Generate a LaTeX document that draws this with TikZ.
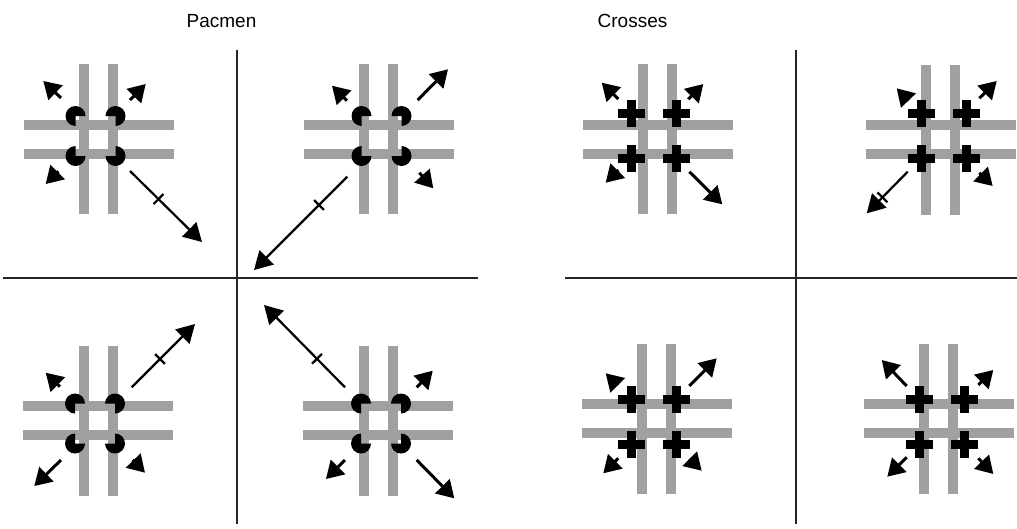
\documentclass[tikz,border=0pt]{standalone}
\usepackage{fontspec}
\setmainfont{Liberation Sans}
\usetikzlibrary{arrows.meta,calc}
\definecolor{bargray}{RGB}{160,160,160}
\tikzset{
  barfill/.style={fill=bargray},
  frameline/.style={line width=1.6pt, black!85},
  smallarr/.style={line width=3pt, -{Triangle[length=17pt,width=20pt]}},
  bigarr/.style={line width=2.2pt, -{Triangle[length=18pt,width=20pt]}},
  tickline/.style={line width=2.2pt},
  title/.style={font=\fontsize{19}{21}\selectfont, anchor=base, inner sep=0pt},
  pacman/.pic={\fill (0,0) -- (#1:10) arc[start angle=#1, delta angle=270, radius=10] -- cycle;},
  crossmark/.pic={\fill (-13.5,-4.5) rectangle (13.5,4.5); \fill (-4.5,-13.5) rectangle (4.5,13.5);}
}
% bars of one panel, centred at the scope origin
\newcommand\PanelBars{%
  \fill[barfill] (-19.5,-75) rectangle (-9.5,75);
  \fill[barfill] (9.5,-75) rectangle (19.5,75);
  \fill[barfill] (-75,-19.5) rectangle (75,-9.5);
  \fill[barfill] (-75,9.5) rectangle (75,19.5);}
% #1 #2 = shift of the inducers
\newcommand\PacSet[2]{%
  \pic at ({-20+#1},{-20+#2}) {pacman=90};
  \pic at ({20+#1},{-20+#2}) {pacman=180};
  \pic at ({-20+#1},{20+#2}) {pacman=0};
  \pic at ({20+#1},{20+#2}) {pacman=270};}
\newcommand\CrossSet[2]{%
  \pic at ({-22.5+#1},{-22.5+#2}) {crossmark};
  \pic at ({22.5+#1},{-22.5+#2}) {crossmark};
  \pic at ({-22.5+#1},{22.5+#2}) {crossmark};
  \pic at ({22.5+#1},{22.5+#2}) {crossmark};}
% style, name, tail, head
\newcommand\Arw[4]{%
  \coordinate (#2t) at #3; \coordinate (#2h) at #4;
  \draw[#1] (#2t) -- (#2h);}
\newcommand\Tick[2][40pt]{%
  \path ($(#2t)!#1!(#2h)$) coordinate (#2m);
  \draw[tickline] ($(#2m)!7pt!90:(#2h)$) -- ($(#2m)!7pt!-90:(#2h)$);}
\begin{document}
\begin{tikzpicture}[x=1pt,y=-1pt]
\useasboundingbox (0,0) rectangle (1017,528);
% titles
\node[title] (tpac) at (221.5,27) {Pacmen};
\node[title] (tcross) at (632.5,27) {Crosses};
% dividers
\coordinate (lv1) at (237,50); \coordinate (lv2) at (237,524);
\coordinate (lh1) at (3,278); \coordinate (lh2) at (478,278);
\coordinate (rv1) at (796,50); \coordinate (rv2) at (796,524);
\coordinate (rh1) at (565,278); \coordinate (rh2) at (1017,278);
\draw[frameline] (lv1) -- (lv2);
\draw[frameline] (lh1) -- (lh2);
\draw[frameline] (rv1) -- (rv2);
\draw[frameline] (rh1) -- (rh2);
% ---- Pacmen panels
\begin{scope}[shift={(98.5,139)}]\PanelBars\PacSet{-3}{-3}\end{scope}
\begin{scope}[shift={(378.5,139)}]\PanelBars\PacSet{3}{-3}\end{scope}
\begin{scope}[shift={(98,420.5)}]\PanelBars\PacSet{-3}{3}\end{scope}
\begin{scope}[shift={(378,420.5)}]\PanelBars\PacSet{3}{3}\end{scope}
% ---- Crosses panels
\begin{scope}[shift={(657.5,139)}]\PanelBars\CrossSet{-3.5}{-3.5}\end{scope}
\begin{scope}[shift={(940.5,139.5)}]\PanelBars\CrossSet{3.5}{-3.5}\end{scope}
\begin{scope}[shift={(656.5,418.5)}]\PanelBars\CrossSet{-3}{3}\end{scope}
\begin{scope}[shift={(938.5,418.5)}]\PanelBars\CrossSet{3.3}{3.3}\end{scope}
% ---- arrows, panel 1
\Arw{smallarr}{pa}{(61,98)}{(43.3,81)}
\Arw{smallarr}{pb}{(130,100)}{(145.7,84)}
\Arw{smallarr}{pc}{(58.4,171.3)}{(45.7,184)}
\Arw{bigarr}{pd}{(130,171)}{(202,242)}\Tick{pd}
% panel 2
\Arw{smallarr}{qa}{(347,100.7)}{(332,85.7)}
\Arw{smallarr}{qb}{(417.7,100)}{(448,69.3)}
\Arw{smallarr}{qc}{(419.3,172.7)}{(433.3,188.3)}
\Arw{bigarr}{qd}{(347.3,176.7)}{(254,270)}\Tick{qd}
% panel 3
\Arw{smallarr}{ra}{(60,386.7)}{(45.7,372.7)}
\Arw{smallarr}{rb}{(61,460)}{(34.3,486)}
\Arw{smallarr}{rc}{(132.7,460)}{(145,472.7)}
\Arw{bigarr}{rd}{(131.7,387.3)}{(195,324)}\Tick{rd}
% panel 4
\Arw{smallarr}{sa}{(416.7,387.3)}{(432.7,370.7)}
\Arw{smallarr}{sb}{(345,460)}{(326,479)}
\Arw{smallarr}{sc}{(416.7,460)}{(454.3,498.3)}
\Arw{bigarr}{sd}{(345,387.3)}{(264,305)}\Tick{sd}
% panel 5
\Arw{smallarr}{ua}{(618.3,99)}{(601.7,82.7)}
\Arw{smallarr}{ub}{(688.3,99.3)}{(703.3,84)}
\Arw{smallarr}{uc}{(618.4,170)}{(605.7,182.7)}
\Arw{smallarr}{ud}{(689.3,171.7)}{(722.3,204.3)}
% panel 6
\Arw{smallarr}{va}{(908.4,100.5)}{(896.7,88.3)}
\Arw{smallarr}{vb}{(979.3,98.3)}{(996.7,81)}
\Arw{smallarr}{vc}{(979.3,172.7)}{(992.7,186)}
\Arw{bigarr}{vd}{(907.7,171.7)}{(866.7,213.3)}\Tick[36pt]{vd}
% panel 7
\Arw{smallarr}{wa}{(617.7,385.3)}{(605.7,373.3)}
\Arw{smallarr}{wb}{(689.3,386)}{(716.7,358.3)}
\Arw{smallarr}{wc}{(618.3,458.3)}{(603.3,473.3)}
\Arw{smallarr}{wd}{(689.7,458.7)}{(701.7,470.7)}
% panel 8
\Arw{smallarr}{xa}{(906.7,386)}{(881.7,360)}
\Arw{smallarr}{xb}{(978.3,385)}{(993.3,370)}
\Arw{smallarr}{xc}{(906.7,457.3)}{(887.3,476.7)}
\Arw{smallarr}{xd}{(978.3,458.3)}{(993.3,474)}
\end{tikzpicture}
\end{document}
